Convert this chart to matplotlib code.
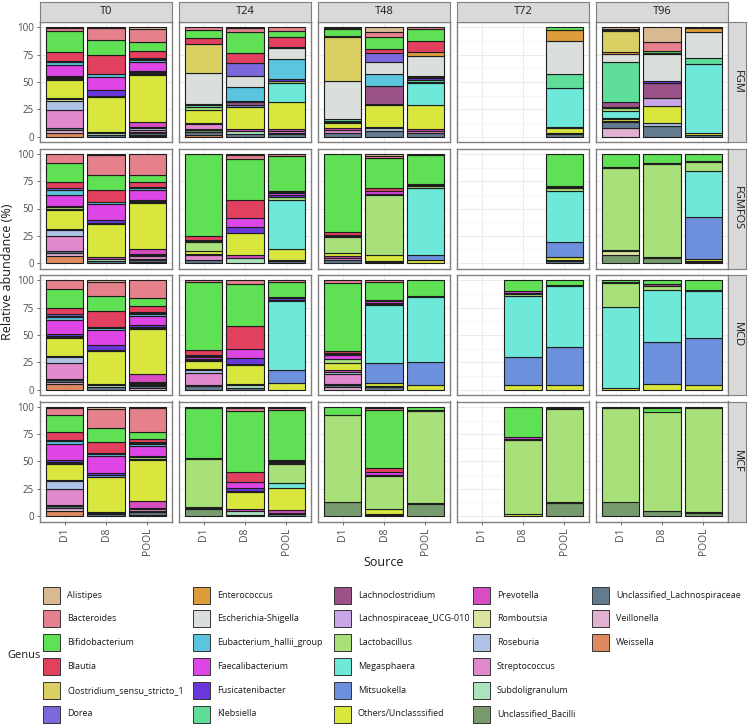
import numpy as np
import matplotlib
matplotlib.use("Agg")
import matplotlib.pyplot as plt
from matplotlib.patches import Rectangle

plt.rcParams['font.family'] = ['Open Sans', 'DejaVu Sans']

# genera in legend order, short codes used in the tables below
GENERA = ["Alistipes", "Bacteroides", "Bifidobacterium", "Blautia",
          "Clostridium_sensu_stricto_1", "Dorea", "Enterococcus",
          "Escherichia-Shigella", "Eubacterium_hallii_group", "Faecalibacterium",
          "Fusicatenibacter", "Klebsiella", "Lachnoclostridium",
          "Lachnospiraceae_UCG-010", "Lactobacillus", "Megasphaera", "Mitsuokella",
          "Others/Unclasssified", "Prevotella", "Romboutsia", "Roseburia",
          "Streptococcus", "Subdoligranulum", "Unclassified_Bacilli",
          "Unclassified_Lachnospiraceae", "Veillonella", "Weissella"]
CODES = ["Ali", "Bac", "Bif", "Bla", "Clo", "Dor", "Ent", "Esc", "Eub", "Fae",
         "Fus", "Kle", "Lcl", "UCG", "Lac", "Meg", "Mit", "Oth", "Pre", "Rom",
         "Ros", "Str", "Sub", "UBa", "ULa", "Vei", "Wei"]
COLORS = ["#D9B991", "#E5818D", "#5FE055", "#E2405F", "#D9CF62", "#7B68DD",
          "#DE9C3A", "#DADFDC", "#5BC4DE", "#DD45E4", "#6A38DA", "#5FDE9A",
          "#9B5289", "#C8A6E8", "#A8E07A", "#6DE8D9", "#6C90DC", "#D8E63E",
          "#D74DC2", "#DDE49F", "#AEC3E6", "#E288CF", "#ABE3BF", "#779B6E",
          "#637B8E", "#E0B1D3", "#DE8A5E"]

SOURCES = ["D1", "D8", "POOL"]
TIMES = ["T0", "T24", "T48", "T72", "T96"]
MEDIA = ["FGM", "FGMFOS", "MCD", "MCF"]

# relative abundance (%) per facet / source
FGM_T0 = {
    "D1": {"Wei": 3.5, "Vei": 2.5, "ULa": 1.5, "Rom": 1.5, "Str": 17, "Ros": 8, "Pre": 1, "Oth": 16,
           "Mit": 1, "Lac": 1, "Lcl": 1, "Fus": 1, "Fae": 10, "Eub": 2.5, "Dor": 1, "Bla": 8,
           "Bif": 19, "Bac": 3, "Ali": 0.5},
    "D8": {"ULa": 1, "Sub": 2.5, "Pre": 1, "Oth": 31.5, "Mit": 1, "Fus": 5, "Fae": 12, "Eub": 3,
           "Bla": 17, "Bif": 14, "Bac": 11, "Ali": 0.5},
    "POOL": {"Wei": 0.5, "Vei": 0.8, "ULa": 1.5, "Sub": 1.5, "Str": 2, "Ros": 1.5, "Rom": 1, "Pre": 4,
             "Oth": 42, "Mit": 1, "Meg": 1, "Lac": 1, "Fus": 1, "Fae": 8, "Eub": 2, "Esc": 1, "Dor": 1,
             "Bla": 6, "Bif": 8, "Bac": 12, "Ali": 1},
}
FGM_T24 = {
    "D1": {"Wei": 1.5, "ULa": 3, "UBa": 1, "Sub": 1, "Str": 5, "Pre": 1, "Oth": 12, "Lac": 2, "Kle": 2,
           "Fus": 1, "Esc": 28, "Clo": 26.5, "Bla": 5, "Bif": 8, "Bac": 2},
    "D8": {"ULa": 2, "Sub": 3, "Pre": 1.5, "Oth": 21, "Mit": 1, "Lcl": 3, "Fus": 1, "Eub": 13, "Esc": 10,
           "Dor": 12, "Bla": 9, "Bif": 19, "Bac": 4, "Ali": 0.5},
    "POOL": {"ULa": 2, "Sub": 1, "Str": 2, "Pre": 2, "Oth": 24, "Meg": 18, "Lac": 1.5, "Fus": 1.5,
             "Eub": 18, "Esc": 10, "Ent": 1, "Bla": 9, "Bif": 6, "Bac": 3},
}
FGM_T48 = {
    "D1": {"ULa": 3, "Str": 3, "Pre": 1.5, "Oth": 5, "Mit": 1, "Lac": 1, "Kle": 1.5, "Esc": 35,
           "Clo": 40, "Bla": 1, "Bif": 6, "Bac": 1, "Ali": 0.5},
    "D8": {"ULa": 5, "Ros": 3, "Pre": 1, "Oth": 20, "Lac": 1, "Lcl": 16, "Eub": 11, "Esc": 11,
           "Dor": 9, "Bla": 3, "Bif": 11, "Bac": 5, "Ali": 4},
    "POOL": {"ULa": 3, "Str": 2, "Pre": 2, "Oth": 22, "Meg": 20, "Lac": 1, "Kle": 2, "Fus": 1,
             "Fae": 1, "Eub": 1.5, "Esc": 18, "Ent": 4, "Bla": 10, "Bif": 11, "Bac": 1},
}
FGM_T72 = {
    "POOL": {"ULa": 2, "Pre": 1, "Oth": 5, "Mit": 1, "Meg": 36, "Kle": 13, "Esc": 30, "Ent": 10,
             "Bif": 2.5},
}
FGM_T96 = {
    "D1": {"Vei": 8, "ULa": 5, "Pre": 1, "Oth": 2, "Mit": 1, "Meg": 6.5, "Lac": 3, "UCG": 1, "Lcl": 4,
           "Kle": 37, "Esc": 7, "Ent": 2, "Clo": 19, "Bla": 1, "Bif": 1, "Ali": 1.5},
    "D8": {"ULa": 10, "Ros": 2, "Oth": 16, "UCG": 7, "Lcl": 14, "Fus": 1, "Esc": 25, "Ent": 1,
           "Bif": 2, "Bac": 8, "Ali": 13},
    "POOL": {"ULa": 1, "Oth": 2, "Meg": 63, "Kle": 6, "Esc": 23, "Ent": 4, "Bif": 0.5},
}

FGMFOS_T0 = {
    "D1": {"Wei": 6, "Vei": 3, "ULa": 2, "Str": 13, "Ros": 6, "Pre": 1, "Oth": 17, "Mit": 1, "Lac": 1,
           "Fus": 1, "Fae": 10, "Eub": 5, "Dor": 1, "Bla": 6, "Bif": 17, "Bac": 8},
    "D8": {"ULa": 2, "Sub": 1.5, "Pre": 1.5, "Oth": 30, "Mit": 1, "Fus": 3, "Fae": 14, "Eub": 2,
           "Bla": 11, "Bif": 13, "Bac": 18, "Ali": 1},
    "POOL": {"Vei": 1, "ULa": 2, "UBa": 1, "Str": 2, "Ros": 1, "Rom": 1, "Pre": 5, "Oth": 41, "Mit": 1,
             "Lac": 1, "Fus": 1, "Fae": 9, "Eub": 1.5, "Esc": 1, "Bla": 5, "Bif": 6, "Bac": 19},
}
FGMFOS_T24 = {
    "D1": {"ULa": 3, "Str": 4, "Pre": 1, "Oth": 3, "Lac": 8, "Fus": 1, "Fae": 1, "Bla": 4, "Bif": 75},
    "D8": {"Sub": 5, "Pre": 2, "Oth": 21, "Fus": 5, "Fae": 8, "Bla": 17, "Bif": 37, "Bac": 4, "Ali": 1},
    "POOL": {"ULa": 2, "Pre": 1, "Oth": 10, "Meg": 44, "Lac": 3, "Fus": 1, "Fae": 2, "Eub": 1,
             "Bla": 1, "Bif": 32, "Bac": 1.5},
}
FGMFOS_T48 = {
    "D1": {"ULa": 3, "Str": 2, "Pre": 1.5, "Oth": 3, "Lac": 14, "Fus": 1, "Fae": 1, "Bla": 3, "Bif": 71},
    "D8": {"UBa": 1, "Pre": 1, "Oth": 5, "Lac": 55, "Fus": 1, "Fae": 3, "Bla": 2, "Bif": 28, "Bac": 2,
           "Ali": 1.5},
    "POOL": {"Oth": 3, "Mit": 4.5, "Meg": 61, "Lac": 2, "Fus": 1, "Fae": 1, "Bif": 27, "Bac": 0.5},
}
FGMFOS_T72 = {
    "POOL": {"ULa": 2, "Pre": 1, "Oth": 3, "Mit": 13, "Meg": 47, "Lac": 3, "Fus": 1, "Bla": 1, "Bif": 29},
}
FGMFOS_T96 = {
    "D1": {"UBa": 7, "Rom": 4, "Pre": 1, "Lac": 75, "Fus": 1, "Bif": 12},
    "D8": {"UBa": 5, "Pre": 1, "Lac": 85, "Fus": 1, "Bif": 8},
    "POOL": {"ULa": 1, "Pre": 1, "Oth": 2, "Mit": 38, "Meg": 42, "Lac": 9, "Fus": 0.5, "Bif": 6.5},
}

MCD_T0 = {
    "D1": {"Wei": 5, "Vei": 2, "ULa": 2, "UBa": 1, "Str": 14, "Ros": 6, "Pre": 1, "Oth": 16, "Mit": 1,
           "Lac": 1.5, "Fus": 1, "Fae": 13, "Eub": 3, "Esc": 1, "Dor": 1.5, "Bla": 6, "Bif": 17, "Bac": 8},
    "D8": {"ULa": 2, "Sub": 2, "Pre": 1, "Oth": 30, "Mit": 1, "Fus": 4, "Fae": 14, "Eub": 2, "Dor": 1,
           "Bla": 14, "Bif": 14, "Bac": 13, "Ali": 1},
    "POOL": {"Vei": 1, "ULa": 2, "UBa": 1, "Str": 1, "Ros": 1, "Rom": 1, "Pre": 7, "Oth": 40, "Mit": 1,
             "Lac": 1.5, "Fus": 1.5, "Fae": 8, "Eub": 2, "Esc": 1, "Dor": 1, "Bla": 5, "Bif": 7,
             "Bac": 16},
}
MCD_T24 = {
    "D1": {"ULa": 3, "Sub": 1, "Str": 11, "Ros": 3, "Pre": 1, "Oth": 7, "Lac": 1, "Fus": 1, "Fae": 2,
           "Eub": 1, "Dor": 1, "Bla": 4, "Bif": 63, "Bac": 1},
    "D8": {"ULa": 1, "Sub": 3, "Pre": 1.5, "Oth": 17, "Mit": 1, "Fus": 6, "Fae": 8, "Bla": 21,
           "Bif": 39, "Bac": 3},
    "POOL": {"Oth": 6, "Mit": 12, "Meg": 63, "Lac": 1, "Fus": 1.5, "Fae": 1.5, "Bif": 14, "Bac": 1},
}
MCD_T48 = {
    "D1": {"Vei": 2, "ULa": 2, "Sub": 1, "Str": 9, "Ros": 2, "Pre": 2, "Oth": 6, "Lac": 4, "Fae": 3,
           "Eub": 1, "Esc": 1, "Bla": 2, "Bif": 62, "Bac": 2},
    "D8": {"ULa": 2, "Pre": 1, "Oth": 3, "Mit": 18, "Meg": 54, "Lac": 1, "Fus": 1, "Fae": 1.5,
           "Bla": 1, "Bif": 17, "Bac": 1},
    "POOL": {"Oth": 4, "Mit": 21, "Meg": 60, "Lac": 1, "Bif": 14},
}
MCD_T72 = {
    "D8": {"Oth": 4, "Mit": 26, "Meg": 55, "Lac": 2, "Fus": 1.5, "Fae": 1, "Bif": 10},
    "POOL": {"Oth": 4, "Mit": 35, "Meg": 56, "Lac": 1, "Bif": 4},
}
MCD_T96 = {
    "D1": {"Oth": 1, "Meg": 75, "Lac": 22, "Fus": 1, "Bif": 1},
    "D8": {"Oth": 5, "Mit": 39, "Meg": 47, "Lac": 4, "Lcl": 2, "Bif": 3},
    "POOL": {"Oth": 4, "Mit": 43, "Meg": 43, "Lac": 1, "Bif": 9},
}

MCF_T0 = {
    "D1": {"Wei": 5, "Vei": 2, "ULa": 2, "UBa": 1, "Str": 15, "Ros": 7, "Pre": 1, "Oth": 15, "Mit": 1,
           "Lac": 1, "Fus": 1.5, "Fae": 15, "Eub": 3, "Esc": 1, "Bla": 7, "Bif": 16, "Bac": 6, "Ali": 1},
    "D8": {"ULa": 1.5, "Sub": 1, "Pre": 1, "Oth": 32, "Mit": 1, "Fus": 2, "Fae": 15, "Eub": 2, "Dor": 1,
           "Bla": 10, "Bif": 13, "Bac": 17, "Ali": 1.5},
    "POOL": {"Vei": 1, "ULa": 3, "UBa": 1, "Str": 1, "Rom": 1, "Pre": 7, "Oth": 37, "Mit": 1, "Lac": 1.5,
             "Fus": 1.5, "Fae": 9, "Eub": 1.5, "Esc": 1, "Dor": 1, "Bla": 3, "Bif": 6, "Bac": 22,
             "Ali": 1},
}
MCF_T24 = {
    "D1": {"UBa": 6, "Pre": 1, "Oth": 1, "Lac": 44, "Fus": 1, "Bif": 46, "Bac": 1},
    "D8": {"ULa": 1, "Sub": 4, "Pre": 1, "Oth": 16, "Mit": 1, "Fus": 2, "Fae": 6, "Bla": 9, "Bif": 55,
           "Bac": 3, "Ali": 1},
    "POOL": {"ULa": 2, "UBa": 1, "Pre": 2.5, "Oth": 20, "Meg": 5, "Lac": 17, "Fus": 1.5, "Fae": 1,
             "Bla": 1, "Bif": 46, "Bac": 2, "Ali": 1},
}
MCF_T48 = {
    "D1": {"UBa": 12.5, "Pre": 0.5, "Lac": 80, "Bif": 7},
    "D8": {"ULa": 1, "Pre": 1, "Oth": 4, "Lac": 31, "Fus": 1, "Fae": 2, "Bla": 4, "Bif": 53, "Bac": 2,
           "Ali": 1},
    "POOL": {"UBa": 11, "Pre": 1, "Lac": 83, "Fus": 1, "Bif": 3},
}
MCF_T72 = {
    "D8": {"Oth": 2, "Lac": 68, "Fus": 1, "Fae": 1.5, "Bif": 27.5},
    "POOL": {"UBa": 12, "Pre": 1, "Lac": 85, "Fus": 1, "Bif": 1},
}
MCF_T96 = {
    "D1": {"UBa": 13, "Lac": 86, "Bif": 1},
    "D8": {"UBa": 5, "Lac": 90, "Bif": 4, "Bac": 1},
    "POOL": {"UBa": 3, "Pre": 1, "Lac": 95, "Bif": 1},
}

DATA = {
    "FGM": [FGM_T0, FGM_T24, FGM_T48, FGM_T72, FGM_T96],
    "FGMFOS": [FGMFOS_T0, FGMFOS_T24, FGMFOS_T48, FGMFOS_T72, FGMFOS_T96],
    "MCD": [MCD_T0, MCD_T24, MCD_T48, MCD_T72, MCD_T96],
    "MCF": [MCF_T0, MCF_T24, MCF_T48, MCF_T72, MCF_T96],
}

W, H = 750, 724
fig = plt.figure(figsize=(W / 100, H / 100), dpi=100)


def px(x0, y0, x1, y1):
    return [x0 / W, 1 - y1 / H, (x1 - x0) / W, (y1 - y0) / H]


color_of = dict(zip(CODES, COLORS))
stack_order = CODES[::-1]  # first level ends up on top
tick_col = "#4D4D4D"
border = "#808080"

for i, med in enumerate(MEDIA):
    top = 22 + i * 126.5
    bot = top + 120
    for j, t in enumerate(TIMES):
        left = 40 + j * 139
        ax = fig.add_axes(px(left, top, left + 132, bot))
        ax.set_xlim(0.4, 3.6)
        ax.set_ylim(-5, 105)
        ax.set_yticks([0, 25, 50, 75, 100])
        ax.set_yticks([12.5, 37.5, 62.5, 87.5], minor=True)
        ax.set_xticks([1, 2, 3])
        ax.grid(which="major", color="#EBEBEB", lw=0.7, zorder=0)
        ax.grid(which="minor", axis="y", color="#F3F3F3", lw=0.5, zorder=0)
        ax.set_axisbelow(True)
        for sp in ax.spines.values():
            sp.set_color(border)
            sp.set_linewidth(1.0)
        ax.tick_params(which="minor", length=0)
        ax.tick_params(which="major", colors=tick_col, labelsize=7, length=2.5, width=0.6,
                       pad=2)

        facet = DATA[med][j]
        for k, src in enumerate(SOURCES):
            if src not in facet:
                continue
            comp = facet[src]
            total = sum(comp.values())
            base = 0.0
            for code in stack_order:
                v = comp.get(code, 0)
                if v <= 0:
                    continue
                h = v / total * 100
                ax.bar(k + 1, h, bottom=base, width=0.9, color=color_of[code],
                       edgecolor="#1E1E1E", linewidth=0.8, zorder=3)
                base += h

        if j == 0:
            ax.set_yticklabels(["0", "25", "50", "75", "100"])
        else:
            ax.tick_params(axis="y", left=False, labelleft=False)
        if i == len(MEDIA) - 1:
            ax.set_xticklabels(SOURCES, rotation=90, fontsize=7.5)
        else:
            ax.tick_params(axis="x", bottom=False, labelbottom=False)

        # top strips
        if i == 0:
            sax = fig.add_axes(px(left, 2, left + 132, 22))
            sax.set_facecolor("#D9D9D9")
            sax.set_xticks([])
            sax.set_yticks([])
            for sp in sax.spines.values():
                sp.set_color(border)
            sax.text(0.5, 0.5, t, ha="center", va="center", fontsize=8, color="#1A1A1A",
                     transform=sax.transAxes)

    # right strips
    rax = fig.add_axes(px(728, top, 746, bot))
    rax.set_facecolor("#D9D9D9")
    rax.set_xticks([])
    rax.set_yticks([])
    for sp in rax.spines.values():
        sp.set_color(border)
    rax.text(0.5, 0.5, med, ha="center", va="center", rotation=-90, fontsize=8,
             color="#1A1A1A", transform=rax.transAxes)

fig.text(8 / W, 1 - 272 / H, "Relative abundance (%)", rotation=90, ha="center",
         va="center", fontsize=9, color="#1A1A1A")
fig.text(384 / W, 1 - 563 / H, "Source", ha="center", va="center", fontsize=9,
         color="#1A1A1A")

# legend, drawn by hand in pixel space
lax = fig.add_axes([0, 0, 1, 1])
lax.set_xlim(0, W)
lax.set_ylim(H, 0)
lax.axis("off")
col_x = [43, 193, 334, 473, 592]
for n, (name, col) in enumerate(zip(GENERA, COLORS)):
    c, r = divmod(n, 6)
    x = col_x[c]
    yc = 595 + r * 23.8
    lax.add_patch(Rectangle((x, yc - 8.5), 17, 17, facecolor=col, edgecolor="#333333", lw=0.7))
    lax.text(x + 24, yc, name, ha="left", va="center", fontsize=6.5, color="#1A1A1A")
lax.text(7, 655, "Genus", ha="left", va="center", fontsize=8, color="#1A1A1A")

fig.savefig("out.png", dpi=100)
